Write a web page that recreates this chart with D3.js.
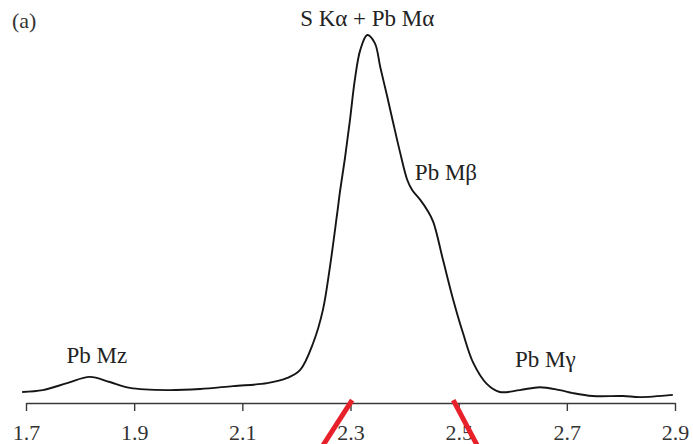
<!DOCTYPE html>
<html>
<head>
<meta charset="utf-8">
<script src="https://cdn.jsdelivr.net/npm/d3@7"></script>
<style>
  html, body { margin: 0; padding: 0; background: #fff; }
  svg { display: block; }
</style>
</head>
<body>
<svg id="chart" width="693" height="444"></svg>
<script>
// Energy (keV)
const energy = [1.693, 1.731, 1.776, 1.818, 1.855, 1.892, 1.961, 2.022, 2.083, 2.146,
  2.183, 2.207, 2.231, 2.249, 2.262, 2.275, 2.281, 2.290, 2.299, 2.308,
  2.318, 2.331, 2.345, 2.355, 2.368, 2.379, 2.392, 2.405, 2.414, 2.429,
  2.442, 2.453, 2.471, 2.490, 2.508, 2.527, 2.552, 2.576, 2.613, 2.650,
  2.687, 2.711, 2.748, 2.804, 2.835, 2.896];
// Intensity (relative)
const intensity = [3.0, 3.5, 5.4, 7.1, 5.7, 4.1, 3.5, 3.8, 4.6, 5.4,
  6.8, 9.0, 16.3, 25.3, 37.0, 51.1, 57.9, 66.8, 76.9, 87.8,
  95.9, 100, 97.8, 91.3, 83.2, 76.1, 67.9, 60.6, 57.9, 55.2,
  52.4, 49.2, 38.9, 28.0, 19.0, 10.9, 5.2, 3.0, 3.5, 4.3,
  3.5, 2.7, 1.9, 1.9, 1.6, 2.2];
const tickValues = [1.7, 1.9, 2.1, 2.3, 2.5, 2.7, 2.9];
const tickLabels = ["1.7", "1.9", "2.1", "2.3", "2.5", "2.7", "2.9"];
// Peak annotations
const peakLabels = ["S K\u03b1 + Pb M\u03b1", "Pb M\u03b2", "Pb Mz", "Pb M\u03b3"];
const peakLabelEnergy = [2.331, 2.419, 1.831, 2.604];
const peakLabelIntensity = [102.4, 60.6, 10.9, 9.8];
// Red annotation strokes (energy, intensity) pairs
const redStart = [[2.247, -12], [2.490, 0.8]];
const redEnd = [[2.303, 0.8], [2.536, -12]];

const svg = d3.select("#chart");
const x = d3.scaleLinear().domain([1.7, 2.9]).range([26, 675]);
const y = d3.scaleLinear().domain([0, 100]).range([403, 35]);

const pts = energy.map((e, i) => [e, intensity[i]]);

const line = d3.line()
  .x(d => x(d[0]))
  .y(d => y(d[1]))
  .curve(d3.curveCatmullRom.alpha(0.5));

svg.append("path")
  .datum(pts)
  .attr("d", line)
  .attr("fill", "none")
  .attr("stroke", "#151515")
  .attr("stroke-width", 1.9)
  .attr("stroke-linejoin", "round");

// x axis
const axis = d3.axisBottom(x)
  .tickValues(tickValues)
  .tickFormat((d, i) => tickLabels[i])
  .tickSize(8)
  .tickSizeOuter(0)
  .tickPadding(13);

const gA = svg.append("g")
  .attr("transform", `translate(0,${y(0)})`)
  .call(axis);
gA.select(".domain").attr("stroke", "#3a3a3a").attr("stroke-width", 1.6);
gA.selectAll(".tick line").attr("stroke", "#3a3a3a").attr("stroke-width", 1.4);
gA.selectAll(".tick text")
  .attr("font-family", "'Liberation Serif', 'Times New Roman', serif")
  .attr("font-size", 22)
  .attr("fill", "#333");

// red strokes
svg.selectAll("line.red")
  .data(redStart.map((s, i) => [s, redEnd[i]]))
  .enter().append("line")
  .attr("class", "red")
  .attr("x1", d => x(d[0][0])).attr("y1", d => y(d[0][1]))
  .attr("x2", d => x(d[1][0])).attr("y2", d => y(d[1][1]))
  .attr("stroke", "#e8202a")
  .attr("stroke-width", 5);

// peak labels
svg.selectAll("text.peak")
  .data(peakLabels)
  .enter().append("text")
  .attr("class", "peak")
  .attr("x", (d, i) => x(peakLabelEnergy[i]))
  .attr("y", (d, i) => y(peakLabelIntensity[i]))
  .attr("text-anchor", (d, i) => i === 1 || i === 3 ? "start" : "middle")
  .attr("font-family", "'Liberation Serif', 'Times New Roman', serif")
  .attr("font-size", 23)
  .attr("fill", "#222")
  .text(d => d);

svg.append("text")
  .attr("x", 12)
  .attr("y", 28)
  .attr("font-family", "'Liberation Serif', 'Times New Roman', serif")
  .attr("font-size", 22)
  .attr("fill", "#333")
  .text("(a)");
</script>
</body>
</html>
